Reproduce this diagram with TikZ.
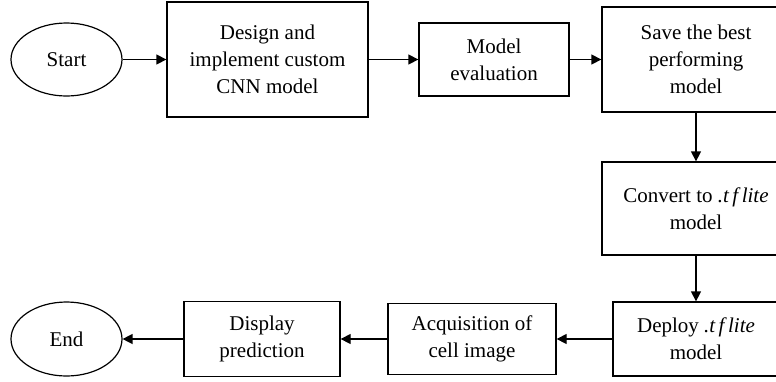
\documentclass[tikz,border=0pt]{standalone}
\usepackage{fontspec}
\setmainfont{Liberation Serif}
\usetikzlibrary{arrows.meta,shapes.geometric}
\begin{document}
\begin{tikzpicture}[x=1pt,y=-1pt,
  every node/.style={font=\fontsize{21}{27}\selectfont, align=center, inner sep=0pt},
  box/.style={draw, line width=1.3pt, rectangle},
  term/.style={draw, line width=1.2pt, ellipse},
  flow/.style={line width=1.3pt, -{Triangle[length=10pt,width=10pt]}}]
\useasboundingbox (0,0) rectangle (776,381);
\clip (0,0) rectangle (776,381);

% top row
\node[term, minimum width=111pt, minimum height=73pt] (start) at (66.5,59.5) {Start};
\node[box, minimum width=201pt, minimum height=115pt] (design) at (267.5,59.5)
  {Design and\\implement custom\\CNN model};
\node[box, minimum width=150pt, minimum height=73pt] (eval) at (494,59.5)
  {Model\\evaluation};
\node[box, minimum width=188pt, minimum height=105pt] (save) at (696,59.5)
  {Save the best\\performing\\model};

% right column
\coordinate (col) at (696,0);
\node[box, minimum width=188pt, minimum height=93pt] (convert) at (696,208.5)
  {Convert to \textit{.t\,f\,lite}\\model};
\node[box, minimum width=166pt, minimum height=74pt] (deploy) at (696,339)
  {Deploy \textit{.t\,f\,lite}\\model};

% bottom row
\node[box, minimum width=168pt, minimum height=71pt] (acq) at (472,339)
  {Acquisition of\\cell image};
\node[box, minimum width=156pt, minimum height=75pt] (disp) at (262,339)
  {Display\\prediction};
\node[term, minimum width=111pt, minimum height=74pt] (end) at (66.5,339) {End};

% connectors
\draw[flow] (start) -- (design);
\draw[flow] (design) -- (eval);
\draw[flow] (eval) -- (save);
\draw[flow] (save.south -| col) -- (convert.north -| col);
\draw[flow] (convert.south -| col) -- (deploy.north -| col);
\draw[flow] (deploy) -- (acq);
\draw[flow] (acq) -- (disp);
\draw[flow] (disp) -- (end);
\end{tikzpicture}
\end{document}
